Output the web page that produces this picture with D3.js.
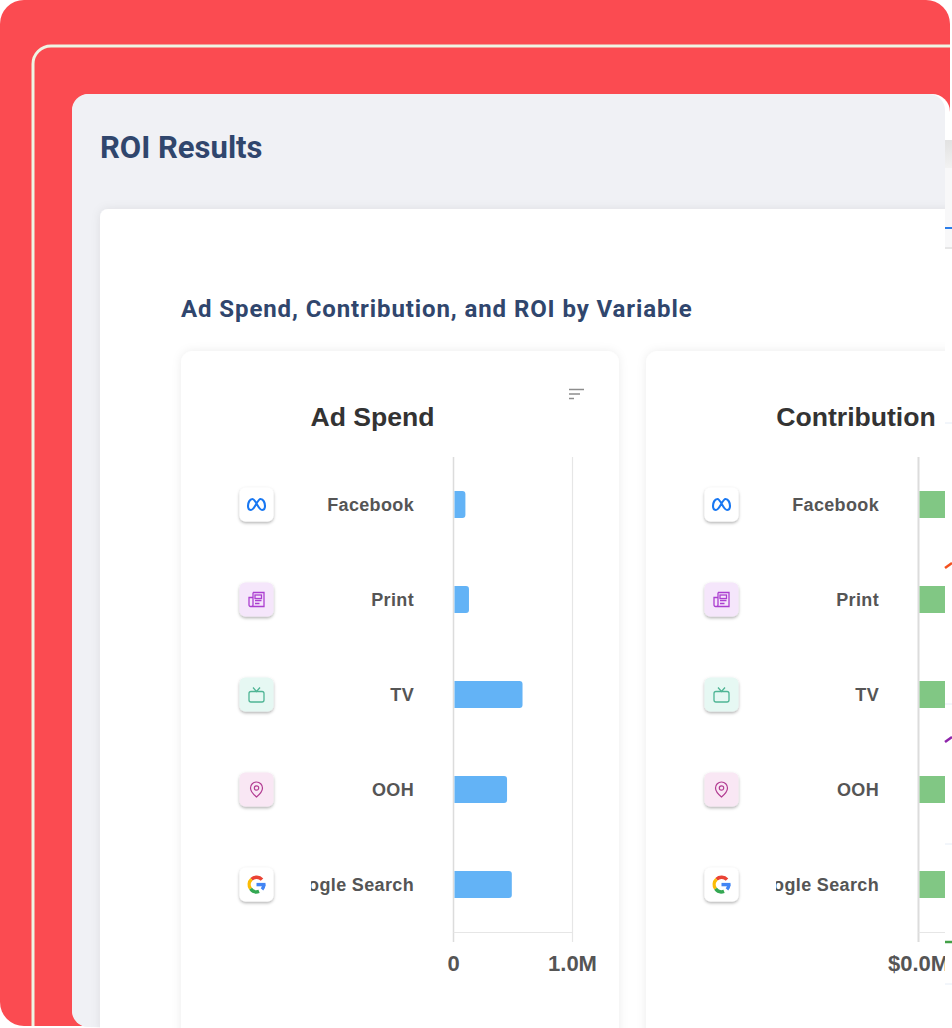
<!DOCTYPE html>
<html lang="en">

<head>
  <meta charset="UTF-8">
  <title>ROI Results</title>
  <script src="https://cdnjs.cloudflare.com/ajax/libs/d3/7.8.5/d3.min.js"></script>
  <style>
    html, body { margin: 0; padding: 0; background: #fff; overflow: hidden; }
    text { font-family: 'Liberation Sans', sans-serif; }
    .head { font-family: Roboto, sans-serif; font-weight: 700; fill: #30466d; }
  </style>
</head>

<body>
  <div id="chart"></div>
  <script>
    const channels = ["Facebook", "Print", "TV", "OOH", "Google Search"];
    const adSpend = [0.10, 0.13, 0.58, 0.45, 0.49];
    const contribution = [0.45, 0.45, 0.45, 0.45, 0.45];
    const spendTicks = [0, 1000000];
    const spendTickLabels = ["0", "1.0M"];
    const contribTicks = [0];
    const contribTickLabels = ["$0.0M"];
    const iconFills = ["#ffffff", "#f5e6fb", "#e6f8f3", "#f9e7f4", "#ffffff"];

    const svg = d3.select("#chart").append("svg").attr("width", 952).attr("height", 1028);
    const defs = svg.append("defs");

    const cardShadow = defs.append("filter").attr("id", "cardShadow").attr("x", "-10%").attr("y", "-10%").attr("width", "120%").attr("height", "120%");
    cardShadow.append("feDropShadow").attr("dx", 0).attr("dy", 0).attr("stdDeviation", 5).attr("flood-color", "#000").attr("flood-opacity", 0.08);
    const iconShadow = defs.append("filter").attr("id", "iconShadow").attr("x", "-30%").attr("y", "-30%").attr("width", "160%").attr("height", "160%");
    iconShadow.append("feDropShadow").attr("dx", 0).attr("dy", 1.5).attr("stdDeviation", 1.5).attr("flood-color", "#000").attr("flood-opacity", 0.32);
    defs.append("clipPath").attr("id", "frame").append("rect").attr("x", 0).attr("y", 0).attr("width", 950).attr("height", 1026);
    const band = defs.append("linearGradient").attr("id", "band").attr("x1", 0).attr("x2", 0).attr("y1", 0).attr("y2", 1);
    band.append("stop").attr("offset", 0).attr("stop-color", "#e2e2e2");
    band.append("stop").attr("offset", 1).attr("stop-color", "#f2f2f2");

    // backdrop layers
    svg.append("rect").attr("x", 0).attr("y", 0).attr("width", 950).attr("height", 1026).attr("rx", 24).attr("fill", "#fb4b51");
    svg.append("rect").attr("x", 33).attr("y", 46).attr("width", 960).attr("height", 1040).attr("rx", 18)
      .attr("fill", "#fb4b51").attr("stroke", "#eef5e3").attr("stroke-width", 3).attr("clip-path", "url(#frame)");
    svg.append("rect").attr("x", 72).attr("y", 94).attr("width", 878).attr("height", 933).attr("rx", 18).attr("fill", "#fff");
    svg.append("rect").attr("x", 72).attr("y", 94).attr("width", 873).attr("height", 933).attr("rx", 16).attr("fill", "#f0f1f5");
    svg.append("rect").attr("x", 100).attr("y", 209).attr("width", 860).attr("height", 830).attr("rx", 8).attr("fill", "#fff").attr("filter", "url(#cardShadow)");

    svg.append("text").attr("class", "head").attr("x", 100).attr("y", 158).attr("font-size", 31).text("ROI Results");
    svg.append("text").attr("class", "head").attr("x", 181).attr("y", 317).attr("font-size", 24).attr("letter-spacing", 0.9)
      .text("Ad Spend, Contribution, and ROI by Variable");

    // small cards
    svg.append("rect").attr("x", 181).attr("y", 351).attr("width", 438).attr("height", 700).attr("rx", 12).attr("fill", "#fff").attr("filter", "url(#cardShadow)");
    svg.append("rect").attr("x", 646).attr("y", 351).attr("width", 330).attr("height", 700).attr("rx", 12).attr("fill", "#fff").attr("filter", "url(#cardShadow)");

    // sort icon
    svg.append("g").attr("stroke", "#8d8d8d").attr("stroke-width", 1.5).selectAll("line")
      .data([15, 11, 5]).join("line")
      .attr("x1", 569).attr("x2", d => 569 + d)
      .attr("y1", (d, i) => 389.5 + i * 4.5).attr("y2", (d, i) => 389.5 + i * 4.5);

    function icon(g, i) {
      if (i == 0) {
        g.append("path").attr("d", "M-4,-5.5C-7,-5.5 -8.5,-1.5 -8.5,1.5C-8.5,4 -7.5,5.5 -5.5,5.5C-2,5.5 1,-5.5 4,-5.5C7,-5.5 8.5,-1.5 8.5,1.5C8.5,4 7.5,5.5 5.5,5.5C2,5.5 -1,-5.5 -4,-5.5Z")
          .attr("fill", "none").attr("stroke", "#1877f2").attr("stroke-width", 2.1);
      } else if (i == 1) {
        const p = g.append("g").attr("fill", "none").attr("stroke", "#ab3fd0").attr("stroke-width", 1.3);
        p.append("path").attr("d", "M-3.5,-7H7.5V7H-6A1.5,1.5 0 0 1 -7.5,5.5V-2H-3.5M-3.5,-7V5.5A1.5,1.5 0 0 1 -5,7");
        p.append("rect").attr("x", -1.5).attr("y", -4.5).attr("width", 6.5).attr("height", 3.5);
        p.append("path").attr("d", "M-1.5,1H5M-1.5,4H3");
      } else if (i == 2) {
        const p = g.append("g").attr("fill", "none").attr("stroke", "#4fb595").attr("stroke-width", 1.3);
        p.append("rect").attr("x", -7.5).attr("y", -3).attr("width", 15).attr("height", 10.5).attr("rx", 2);
        p.append("path").attr("d", "M-3.5,-7L0,-3L3.5,-7");
      } else if (i == 3) {
        const p = g.append("g").attr("fill", "none").attr("stroke", "#b23c92").attr("stroke-width", 1.2);
        p.append("path").attr("d", "M0,7.5C-3,5 -6,2 -6,-1.5A6,6 0 0 1 6,-1.5C6,2 3,5 0,7.5Z");
        p.append("circle").attr("cy", -1.5).attr("r", 2.2);
      } else {
        const arc = d3.arc().innerRadius(5.6).outerRadius(9);
        const parts = [["#ea4335", -0.75, 0.85], ["#fbbc05", -2.2, -0.75], ["#34a853", -3.5, -2.2], ["#4285f4", 1.57, 2.3]];
        parts.forEach(d => g.append("path").attr("fill", d[0]).attr("d", arc({ startAngle: d[1], endAngle: d[2] })));
        g.append("rect").attr("x", 0).attr("y", -1.6).attr("width", 9).attr("height", 3.4).attr("fill", "#4285f4");
      }
    }

    function panel(opts) {
      const g = svg.append("g");
      const y = d3.scalePoint().domain(channels).range([504.5, 884.5]);
      const x = d3.scaleLinear().domain([0, 1000000]).range([opts.x0, opts.x0 + 119]);

      g.append("text").attr("x", opts.titleX).attr("y", 426).attr("text-anchor", "middle")
        .attr("font-size", 26.6).attr("font-weight", 700).attr("fill", "#333").text(opts.title);

      // labels get clipped on the left like the original
      const clipId = "clip" + Math.round(opts.x0);
      defs.append("clipPath").attr("id", clipId).append("rect")
        .attr("x", opts.x0 - 142.5).attr("y", 470).attr("width", 143).attr("height", 440);
      g.append("g").attr("clip-path", `url(#${clipId})`).selectAll("text").data(channels).join("text")
        .attr("x", opts.x0 - 39.5).attr("y", d => y(d) + 6).attr("text-anchor", "end")
        .attr("font-size", 18).attr("font-weight", 700).attr("fill", "#555").attr("letter-spacing", 0.35).text(d => d);

      // icons
      const ic = g.selectAll("g.ic").data(channels).join("g").attr("class", "ic")
        .attr("transform", d => `translate(${opts.x0 - 197},${y(d)})`);
      ic.append("rect").attr("x", -17).attr("y", -17).attr("width", 34).attr("height", 34).attr("rx", 6)
        .attr("fill", (d, i) => iconFills[i]).attr("filter", "url(#iconShadow)");
      ic.each(function (d, i) { icon(d3.select(this), i); });

      // grid
      g.append("line").attr("x1", opts.x0).attr("x2", opts.x0).attr("y1", 457).attr("y2", 942).attr("stroke", "#dcdcdc").attr("stroke-width", opts.axisWidth);
      g.selectAll("line.gr").data(opts.ticks.slice(1)).join("line").attr("class", "gr")
        .attr("x1", d => x(d)).attr("x2", d => x(d)).attr("y1", 457).attr("y2", 942).attr("stroke", "#e6e6e6").attr("stroke-width", 1.2);
      g.append("line").attr("x1", opts.x0).attr("x2", x(1000000)).attr("y1", 932.5).attr("y2", 932.5).attr("stroke", "#e6e6e6").attr("stroke-width", 1.2);

      // bars
      g.selectAll("path.bar").data(opts.values).join("path").attr("class", "bar").attr("fill", opts.color)
        .attr("d", (d, i) => {
          const x1 = x(d * 1000000), yy = y(channels[i]) - 13.5, r = 3;
          return `M${opts.x0 + 1},${yy}H${x1 - r}Q${x1},${yy} ${x1},${yy + r}V${yy + 27 - r}Q${x1},${yy + 27} ${x1 - r},${yy + 27}H${opts.x0 + 1}Z`;
        });

      // tick labels
      g.selectAll("text.tk").data(opts.ticks).join("text").attr("class", "tk")
        .attr("x", d => x(d)).attr("y", 971).attr("text-anchor", "middle")
        .attr("font-size", 22).attr("font-weight", 700).attr("fill", "#555")
        .text((d, i) => opts.labels[i]);
    }

    panel({ title: "Ad Spend", titleX: 372.5, x0: 453.5, values: adSpend, color: "#63b3f6", ticks: spendTicks, labels: spendTickLabels, axisWidth: 1.5 });
    panel({ title: "Contribution", titleX: 856, x0: 918.5, values: contribution, color: "#81c784", ticks: contribTicks, labels: contribTickLabels, axisWidth: 2 });

    // edge of the next card, covers the rest of the contribution plot
    svg.append("rect").attr("x", 945).attr("y", 112).attr("width", 7).attr("height", 916).attr("fill", "#fff");
    svg.append("rect").attr("x", 945).attr("y", 140).attr("width", 7).attr("height", 28).attr("fill", "url(#band)");
    svg.append("rect").attr("x", 945).attr("y", 168).attr("width", 7).attr("height", 81).attr("fill", "#f8f8f9");
    svg.append("line").attr("x1", 945).attr("x2", 952).attr("y1", 228).attr("y2", 228).attr("stroke", "#2b7de9").attr("stroke-width", 2);
    svg.append("line").attr("x1", 945).attr("x2", 952).attr("y1", 248).attr("y2", 248).attr("stroke", "#d4d4d4").attr("stroke-width", 1);

    // faint grid lines and line ends of the chart behind
    svg.append("g").attr("stroke", "#e6edf7").selectAll("line").data([423, 704, 844, 984]).join("line")
      .attr("x1", 945).attr("x2", 952).attr("y1", d => d).attr("y2", d => d);
    svg.append("line").attr("x1", 945).attr("x2", 952).attr("y1", 568).attr("y2", 563).attr("stroke", "#f4511e").attr("stroke-width", 2.5);
    svg.append("line").attr("x1", 945).attr("x2", 952).attr("y1", 742).attr("y2", 737).attr("stroke", "#8e24aa").attr("stroke-width", 2.5);
    svg.append("line").attr("x1", 945).attr("x2", 952).attr("y1", 942).attr("y2", 942).attr("stroke", "#43a047").attr("stroke-width", 2.5);
  </script>
</body>

</html>
